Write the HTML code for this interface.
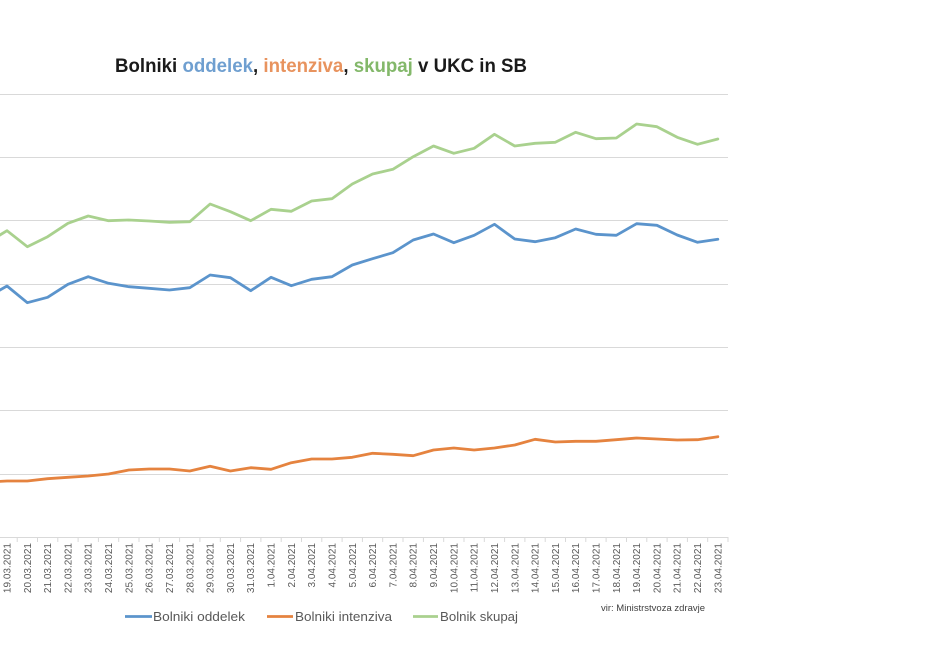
<!DOCTYPE html>
<html><head><meta charset="utf-8"><style>
html,body{margin:0;padding:0;background:#fff;}
svg{display:block;}
text{font-family:"Liberation Sans",Arial,sans-serif;}
</style></head><body>
<svg width="930" height="670" viewBox="0 0 930 670" xmlns="http://www.w3.org/2000/svg">
<rect width="930" height="670" fill="#fff"/>
<!-- title -->
<text x="115" y="72" font-size="19" font-weight="bold" fill="#1a1a1a" textLength="412" lengthAdjust="spacingAndGlyphs">Bolniki <tspan fill="#6f9fd0">oddelek</tspan>, <tspan fill="#e8935e">intenziva</tspan>, <tspan fill="#83b86a">skupaj</tspan> v UKC in SB</text>
<!-- gridlines -->
<g stroke="#d9d9d9" stroke-width="1">
<line x1="0" y1="94.5" x2="728" y2="94.5"/>
<line x1="0" y1="157.5" x2="728" y2="157.5"/>
<line x1="0" y1="220.5" x2="728" y2="220.5"/>
<line x1="0" y1="284.5" x2="728" y2="284.5"/>
<line x1="0" y1="347.5" x2="728" y2="347.5"/>
<line x1="0" y1="410.5" x2="728" y2="410.5"/>
<line x1="0" y1="474.5" x2="728" y2="474.5"/>
<line x1="0" y1="537.5" x2="728" y2="537.5"/>
</g>
<!-- ticks -->
<g stroke="#d9d9d9" stroke-width="1">
<line x1="17.2" y1="537" x2="17.2" y2="542"/><line x1="37.5" y1="537" x2="37.5" y2="542"/><line x1="57.8" y1="537" x2="57.8" y2="542"/><line x1="78.1" y1="537" x2="78.1" y2="542"/><line x1="98.4" y1="537" x2="98.4" y2="542"/><line x1="118.7" y1="537" x2="118.7" y2="542"/><line x1="139" y1="537" x2="139" y2="542"/><line x1="159.3" y1="537" x2="159.3" y2="542"/><line x1="179.6" y1="537" x2="179.6" y2="542"/><line x1="199.9" y1="537" x2="199.9" y2="542"/><line x1="220.3" y1="537" x2="220.3" y2="542"/><line x1="240.6" y1="537" x2="240.6" y2="542"/><line x1="260.9" y1="537" x2="260.9" y2="542"/><line x1="281.2" y1="537" x2="281.2" y2="542"/><line x1="301.5" y1="537" x2="301.5" y2="542"/><line x1="321.8" y1="537" x2="321.8" y2="542"/><line x1="342.1" y1="537" x2="342.1" y2="542"/><line x1="362.4" y1="537" x2="362.4" y2="542"/><line x1="382.7" y1="537" x2="382.7" y2="542"/><line x1="403" y1="537" x2="403" y2="542"/><line x1="423.4" y1="537" x2="423.4" y2="542"/><line x1="443.7" y1="537" x2="443.7" y2="542"/><line x1="464" y1="537" x2="464" y2="542"/><line x1="484.3" y1="537" x2="484.3" y2="542"/><line x1="504.6" y1="537" x2="504.6" y2="542"/><line x1="524.9" y1="537" x2="524.9" y2="542"/><line x1="545.2" y1="537" x2="545.2" y2="542"/><line x1="565.5" y1="537" x2="565.5" y2="542"/><line x1="585.8" y1="537" x2="585.8" y2="542"/><line x1="606.1" y1="537" x2="606.1" y2="542"/><line x1="626.5" y1="537" x2="626.5" y2="542"/><line x1="646.8" y1="537" x2="646.8" y2="542"/><line x1="667.1" y1="537" x2="667.1" y2="542"/><line x1="687.4" y1="537" x2="687.4" y2="542"/><line x1="707.7" y1="537" x2="707.7" y2="542"/><line x1="728" y1="537" x2="728" y2="542"/>
</g>
<!-- series -->
<g fill="none" stroke-width="2.8" stroke-linejoin="round" stroke-linecap="round">
<polyline stroke="#a9d18e" points="-13.3,243 7,230.7 27.31,246.7 47.62,236.7 67.93,223.3 88.24,216 108.55,220.7 128.86,220 149.17,221 169.48,222.3 189.79,221.7 210.1,204 230.41,211.7 250.72,220.7 271.03,209.3 291.34,211.3 311.65,201 331.96,198.7 352.27,184 372.58,174 392.89,169.3 413.2,156.7 433.51,146 453.82,153.3 474.13,148.3 494.44,134.3 514.75,146 535.06,143.3 555.37,142.3 575.68,132.3 595.99,138.7 616.3,138 636.61,124 656.92,126.7 677.23,137.3 697.54,144.3 717.85,139"/>
<polyline stroke="#5b94cc" points="-13.3,297.6 7,286 27.31,302.7 47.62,297.3 67.93,284.3 88.24,276.7 108.55,283.3 128.86,286.7 149.17,288.3 169.48,290 189.79,287.7 210.1,275 230.41,277.7 250.72,290.7 271.03,277.3 291.34,285.7 311.65,279.3 331.96,276.7 352.27,265 372.58,258.7 392.89,252.7 413.2,240 433.51,234 453.82,242.7 474.13,235.3 494.44,224.3 514.75,239 535.06,241.7 555.37,237.7 575.68,229 595.99,234.3 616.3,235.3 636.61,223.7 656.92,225.3 677.23,235 697.54,242.3 717.85,239.3"/>
<polyline stroke="#e5833f" points="-13.3,482 7,481 27.31,481 47.62,478.7 67.93,477.3 88.24,476 108.55,474 128.86,470 149.17,469 169.48,469 189.79,471 210.1,466.3 230.41,471 250.72,467.7 271.03,469.3 291.34,462.7 311.65,459 331.96,459 352.27,457.3 372.58,453.3 392.89,454.3 413.2,455.7 433.51,450 453.82,448 474.13,450 494.44,448 514.75,445 535.06,439.3 555.37,442 575.68,441.3 595.99,441.3 616.3,439.7 636.61,438 656.92,439 677.23,440 697.54,439.7 717.85,436.7"/>
</g>
<!-- x labels -->
<g font-size="10" fill="#595959" text-anchor="end">
<text transform="translate(10.5,543) rotate(-90)">19.03.2021</text>
<text transform="translate(30.8,543) rotate(-90)">20.03.2021</text>
<text transform="translate(51.1,543) rotate(-90)">21.03.2021</text>
<text transform="translate(71.4,543) rotate(-90)">22.03.2021</text>
<text transform="translate(91.7,543) rotate(-90)">23.03.2021</text>
<text transform="translate(112,543) rotate(-90)">24.03.2021</text>
<text transform="translate(132.4,543) rotate(-90)">25.03.2021</text>
<text transform="translate(152.7,543) rotate(-90)">26.03.2021</text>
<text transform="translate(173,543) rotate(-90)">27.03.2021</text>
<text transform="translate(193.3,543) rotate(-90)">28.03.2021</text>
<text transform="translate(213.6,543) rotate(-90)">29.03.2021</text>
<text transform="translate(233.9,543) rotate(-90)">30.03.2021</text>
<text transform="translate(254.2,543) rotate(-90)">31.03.2021</text>
<text transform="translate(274.5,543) rotate(-90)">1.04.2021</text>
<text transform="translate(294.8,543) rotate(-90)">2.04.2021</text>
<text transform="translate(315.1,543) rotate(-90)">3.04.2021</text>
<text transform="translate(335.5,543) rotate(-90)">4.04.2021</text>
<text transform="translate(355.8,543) rotate(-90)">5.04.2021</text>
<text transform="translate(376.1,543) rotate(-90)">6.04.2021</text>
<text transform="translate(396.4,543) rotate(-90)">7.04.2021</text>
<text transform="translate(416.7,543) rotate(-90)">8.04.2021</text>
<text transform="translate(437,543) rotate(-90)">9.04.2021</text>
<text transform="translate(457.3,543) rotate(-90)">10.04.2021</text>
<text transform="translate(477.6,543) rotate(-90)">11.04.2021</text>
<text transform="translate(497.9,543) rotate(-90)">12.04.2021</text>
<text transform="translate(518.3,543) rotate(-90)">13.04.2021</text>
<text transform="translate(538.6,543) rotate(-90)">14.04.2021</text>
<text transform="translate(558.9,543) rotate(-90)">15.04.2021</text>
<text transform="translate(579.2,543) rotate(-90)">16.04.2021</text>
<text transform="translate(599.5,543) rotate(-90)">17.04.2021</text>
<text transform="translate(619.8,543) rotate(-90)">18.04.2021</text>
<text transform="translate(640.1,543) rotate(-90)">19.04.2021</text>
<text transform="translate(660.4,543) rotate(-90)">20.04.2021</text>
<text transform="translate(680.7,543) rotate(-90)">21.04.2021</text>
<text transform="translate(701,543) rotate(-90)">22.04.2021</text>
<text transform="translate(721.4,543) rotate(-90)">23.04.2021</text>
</g>
<!-- source -->
<text x="601" y="611" font-size="9" fill="#404040" textLength="104" lengthAdjust="spacingAndGlyphs">vir: Ministrstvoza zdravje</text>
<!-- legend -->
<g stroke-width="2.8">
<line x1="125" y1="616.5" x2="152" y2="616.5" stroke="#5b94cc"/>
<line x1="267" y1="616.5" x2="293" y2="616.5" stroke="#e5833f"/>
<line x1="413" y1="616.5" x2="438" y2="616.5" stroke="#a9d18e"/>
</g>
<g font-size="13" fill="#595959">
<text x="153" y="621" textLength="92" lengthAdjust="spacingAndGlyphs">Bolniki oddelek</text>
<text x="295" y="621" textLength="97" lengthAdjust="spacingAndGlyphs">Bolniki intenziva</text>
<text x="440" y="621" textLength="78" lengthAdjust="spacingAndGlyphs">Bolnik skupaj</text>
</g>
</svg>
</body></html>
